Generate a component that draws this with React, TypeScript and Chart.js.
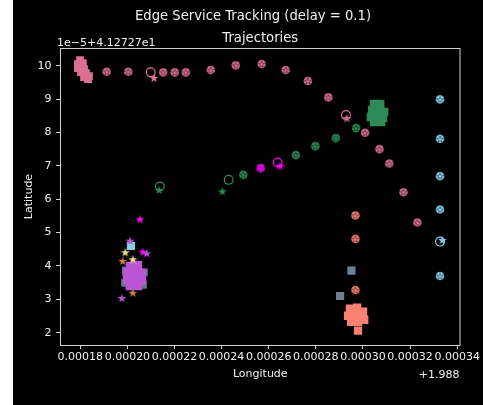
import { useEffect, useRef } from "react";
import { Chart, registerables } from "chart.js";

Chart.register(...registerables);

// Values are offsets in units of 1e-5 degrees.
// Longitude axis shows value*1e-5 (+1.988); latitude axis shows value (x1e-5 + 41.2727)
const xTicks = [18, 20, 22, 24, 26, 28, 30, 32, 34];
const yTicks = [2, 3, 4, 5, 6, 7, 8, 9, 10];

// Pink trajectory (filled markers)
const pinkLon = [19.12, 20.04, 21.52, 22.01, 22.48, 23.54, 24.6, 25.7, 26.72, 27.66, 28.53, 30.09, 30.7, 31.12, 31.72, 32.31];
const pinkLat = [9.82, 9.82, 9.8, 9.8, 9.8, 9.87, 10.01, 10.05, 9.87, 9.54, 9.05, 7.99, 7.5, 7.07, 6.21, 5.3];
const pinkOpenLon = [20.99, 29.28];
const pinkOpenLat = [9.8, 8.52];
const pinkStarLon = [21.13, 29.31];
const pinkStarLat = [9.63, 8.43];
const pinkBlobLon = [17.99, 17.9, 18.11, 17.9, 18.16, 18.24, 18.16, 18.37, 18.33, 18.03];
const pinkBlobLat = [10.17, 10.05, 10.08, 9.93, 9.9, 9.78, 9.66, 9.69, 9.6, 9.81];

// Green trajectory
const greenLon = [24.92, 27.15, 27.98, 28.85, 29.71];
const greenLat = [6.73, 7.32, 7.59, 7.83, 8.13];
const greenOpenLon = [21.38, 24.3];
const greenOpenLat = [6.38, 6.58];
const greenStarLon = [21.35, 24.03];
const greenStarLat = [6.28, 6.24];
const greenBlobLon = [30.47, 30.73, 30.39, 30.64, 30.9, 30.34, 30.6, 30.85, 30.47, 30.77];
const greenBlobLat = [8.85, 8.85, 8.67, 8.67, 8.61, 8.46, 8.46, 8.43, 8.31, 8.31];

// Sky blue trajectory
const skyLon = [33.27, 33.27, 33.27, 33.27, 33.27];
const skyLat = [8.99, 7.81, 6.69, 5.69, 3.7];
const skyOpenLon = [33.27];
const skyOpenLat = [4.73];
const skyStarLon = [33.37];
const skyStarLat = [4.78];
const skySquareLon = [20.15];
const skySquareLat = [4.6];

// Salmon trajectory
const salmonLon = [29.68, 29.68, 29.68];
const salmonLat = [5.51, 4.81, 3.28];
const salmonBlobLon = [29.45, 29.75, 30.0, 29.37, 29.66, 29.96, 29.5, 29.79, 30.05];
const salmonBlobLat = [2.72, 2.75, 2.63, 2.51, 2.54, 2.45, 2.33, 2.33, 2.39];
const salmonSquareLon = [29.79];
const salmonSquareLat = [2.06];

// Slate gray squares
const slateLon = [29.51, 29.03];
const slateLat = [3.86, 3.1];

// Magenta trajectory
const magentaLon = [25.66];
const magentaLat = [6.93];
const magentaOpenLon = [26.38];
const magentaOpenLat = [7.1];
const magentaStarLon = [26.48, 20.54, 20.65];
const magentaStarLat = [7.0, 5.4, 4.43];

// Left cluster
const orchidBlobLon = [20.11, 20.45, 19.98, 20.32, 20.62, 19.98, 20.32, 20.62, 20.11, 20.45];
const orchidBlobLat = [4.0, 4.03, 3.82, 3.82, 3.79, 3.58, 3.58, 3.55, 3.4, 3.4];
const tealBlobLon = [19.9, 20.66, 19.94, 20.7];
const tealBlobLat = [3.49, 3.43, 3.87, 3.81];
const orchidStarLon = [20.11, 20.82, 19.76];
const orchidStarLat = [4.76, 4.38, 3.04];
const khakiStarLon = [19.91, 20.23];
const khakiStarLat = [4.41, 4.2];
const peruStarLon = [19.8, 20.23];
const peruStarLat = [4.15, 3.2];

const PINK = "#db7093";
const GREEN = "#2e8b57";
const SKY = "#87ceeb";
const SALMON = "#fa8072";
const SLATE = "#708090";
const MAGENTA = "#ff00ff";
const ORCHID = "#ba55d3";
const TEAL = "#4f8088";
const KHAKI = "#f0e68c";
const PERU = "#cd853f";

const FONT = '"DejaVu Sans", sans-serif';
const TEXT = "#f0f0f0";
const EDGE = "#d0d0d0";

function starImg(fill: string, stroke: string | null, size: number): HTMLCanvasElement {
  const c = document.createElement("canvas");
  c.width = size;
  c.height = size;
  const g = c.getContext("2d")!;
  const cx = size / 2;
  const cy = size / 2 + 0.4;
  const R = size / 2 - 0.3;
  const r = R * 0.382;
  g.beginPath();
  for (let i = 0; i < 10; i++) {
    const a = -Math.PI / 2 + (i * Math.PI) / 5;
    const rad = i % 2 === 0 ? R : r;
    g.lineTo(cx + rad * Math.cos(a), cy + rad * Math.sin(a));
  }
  g.closePath();
  g.fillStyle = fill;
  g.fill();
  if (stroke) {
    g.strokeStyle = stroke;
    g.lineWidth = 0.8;
    g.stroke();
  }
  return c;
}

const pts = (xs: number[], ys: number[]) => xs.map((x, i) => ({ x, y: ys[i] }));

function circles(xs: number[], ys: number[], color: string) {
  return {
    data: pts(xs, ys),
    pointStyle: "circle",
    pointRadius: 4.3,
    backgroundColor: color,
    borderColor: "rgba(0,0,0,0.25)",
    borderWidth: 0.8,
  };
}
function openCircles(xs: number[], ys: number[], color: string) {
  return {
    data: pts(xs, ys),
    pointStyle: "circle",
    pointRadius: 4.4,
    backgroundColor: "rgba(0,0,0,0)",
    borderColor: color,
    borderWidth: 1.2,
  };
}
function squares(xs: number[], ys: number[], color: string, r: number) {
  return {
    data: pts(xs, ys),
    pointStyle: "rect",
    pointRadius: r,
    backgroundColor: color,
    borderColor: color,
    borderWidth: 0,
  };
}
function stars(xs: number[], ys: number[], img: HTMLCanvasElement) {
  return {
    data: pts(xs, ys),
    pointStyle: img,
    pointRadius: 5,
  };
}

const decor = {
  id: "decor",
  afterDraw(chart: any) {
    const { ctx, chartArea: a } = chart;
    ctx.save();
    ctx.strokeStyle = EDGE;
    ctx.lineWidth = 1;
    ctx.strokeRect(a.left + 0.5, a.top + 0.5, a.right - a.left - 1, a.bottom - a.top);
    ctx.fillStyle = TEXT;
    ctx.textBaseline = "alphabetic";
    ctx.font = `13.2px ${FONT}`;
    ctx.textAlign = "center";
    ctx.fillText("Edge Service Tracking (delay = 0.1)", 240, 20);
    ctx.fillText("Trajectories", (a.left + a.right) / 2, 42);
    ctx.font = `11px ${FONT}`;
    ctx.textAlign = "left";
    ctx.fillText("1e\u22125+4.12727e1", 44, 45.5);
    ctx.textAlign = "right";
    ctx.fillText("+1.988", 446.5, 377.5);
    ctx.restore();
  },
};

export default function App() {
  const ref = useRef<HTMLCanvasElement>(null);
  useEffect(() => {
    if (!ref.current) return;
    const faceStar = (c: string) => starImg(c, "rgba(0,0,0,0.55)", 8);
    const freeStar = (c: string) => starImg(c, null, 10);

    // bottom -> top
    const layers: any[] = [
      squares(tealBlobLon, tealBlobLat, TEAL, 5.5),
      squares(orchidBlobLon, orchidBlobLat, ORCHID, 6),
      squares(pinkBlobLon, pinkBlobLat, PINK, 5.5),
      squares(greenBlobLon, greenBlobLat, GREEN, 6),
      squares(salmonBlobLon, salmonBlobLat, SALMON, 6),
      squares(slateLon, slateLat, SLATE, 5.8),
      squares(skySquareLon, skySquareLat, SKY, 5.8),
      squares(salmonSquareLon, salmonSquareLat, SALMON, 5.8),
      circles(pinkLon, pinkLat, PINK),
      stars(pinkLon, pinkLat, faceStar(PINK)),
      circles(greenLon, greenLat, GREEN),
      stars(greenLon, greenLat, faceStar(GREEN)),
      circles(skyLon, skyLat, SKY),
      stars(skyLon, skyLat, faceStar(SKY)),
      circles(salmonLon, salmonLat, SALMON),
      stars(salmonLon, salmonLat, faceStar(SALMON)),
      circles(magentaLon, magentaLat, MAGENTA),
      stars(magentaLon, magentaLat, faceStar(MAGENTA)),
      openCircles(pinkOpenLon, pinkOpenLat, PINK),
      openCircles(greenOpenLon, greenOpenLat, GREEN),
      openCircles(skyOpenLon, skyOpenLat, SKY),
      openCircles(magentaOpenLon, magentaOpenLat, MAGENTA),
      stars(pinkStarLon, pinkStarLat, freeStar(PINK)),
      stars(greenStarLon, greenStarLat, freeStar(GREEN)),
      stars(skyStarLon, skyStarLat, freeStar(SKY)),
      stars(magentaStarLon, magentaStarLat, freeStar(MAGENTA)),
      stars(orchidStarLon, orchidStarLat, freeStar(ORCHID)),
      stars(khakiStarLon, khakiStarLat, freeStar(KHAKI)),
      stars(peruStarLon, peruStarLat, freeStar(PERU)),
    ];

    const chart = new Chart(ref.current, {
      type: "scatter",
      data: { datasets: layers.slice().reverse() },
      options: {
        responsive: false,
        animation: false,
        devicePixelRatio: 1,
        layout: { padding: { top: 48, right: 22.5, bottom: 0, left: 0 } },
        plugins: {
          legend: { display: false },
          tooltip: { enabled: false },
          title: { display: false },
        },
        scales: {
          x: {
            type: "linear",
            min: 17.14,
            max: 34.14,
            afterBuildTicks: (s: any) => {
              s.ticks = xTicks.map((v) => ({ value: v }));
            },
            afterFit: (s: any) => {
              s.height = 60;
              s.paddingLeft = 0;
              s.paddingRight = 0;
            },
            ticks: {
              color: TEXT,
              font: { family: FONT, size: 11 },
              padding: 2,
              maxRotation: 0,
              autoSkip: false,
              callback: (v: any) => (Number(v) * 1e-5).toFixed(5),
            },
            grid: { drawOnChartArea: false, drawTicks: true, tickLength: 4, color: EDGE },
            border: { display: false },
            title: {
              display: true,
              text: "Longitude",
              color: TEXT,
              font: { family: FONT, size: 11 },
              padding: { top: 0, bottom: 24.5 },
            },
          },
          y: {
            type: "linear",
            min: 1.632,
            max: 10.53,
            afterBuildTicks: (s: any) => {
              s.ticks = yTicks.map((v) => ({ value: v }));
            },
            afterFit: (s: any) => {
              s.width = 47;
              s.paddingTop = 0;
              s.paddingBottom = 0;
            },
            ticks: {
              color: TEXT,
              font: { family: FONT, size: 11 },
              padding: 4.5,
              autoSkip: false,
              callback: (v: any) => String(v),
            },
            grid: { drawOnChartArea: false, drawTicks: true, tickLength: 4, color: EDGE },
            border: { display: false },
            title: {
              display: true,
              text: "Latitude",
              color: TEXT,
              font: { family: FONT, size: 11 },
              padding: { top: 9.9, bottom: 0 },
            },
          },
        },
      } as any,
      plugins: [decor],
    });
    return () => chart.destroy();
  }, []);

  return (
    <div style={{ position: "fixed", left: 0, top: 0, width: 483, height: 405, background: "#fff" }}>
      <canvas
        ref={ref}
        width={470}
        height={405}
        style={{ position: "absolute", left: 13, top: 0, width: 470, height: 405, background: "#000" }}
      />
    </div>
  );
}
